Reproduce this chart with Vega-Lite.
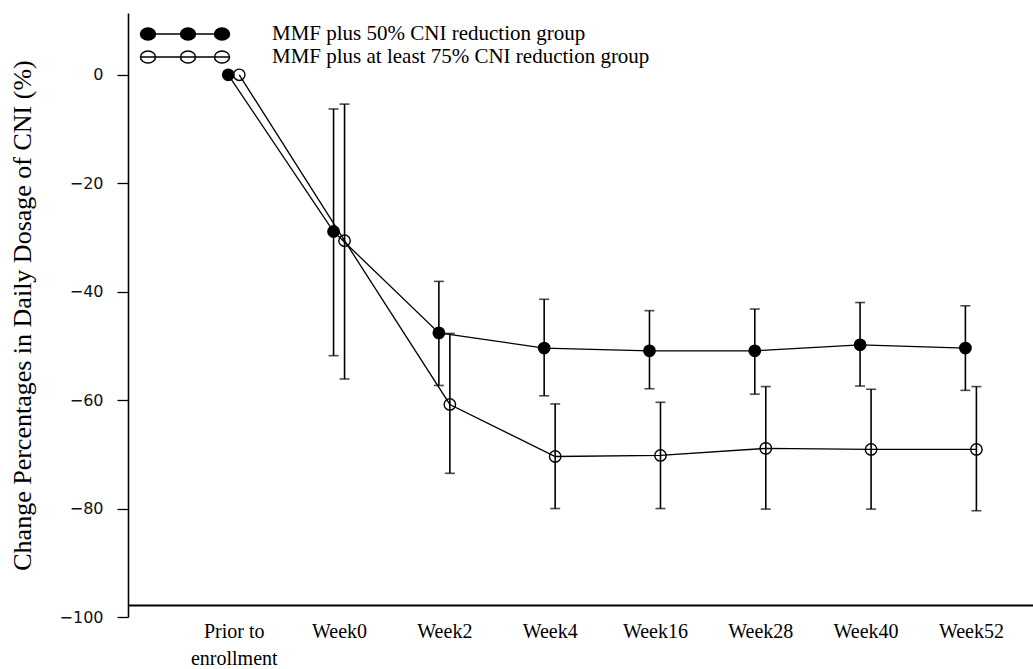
{
  "$schema": "https://vega.github.io/schema/vega-lite/v6.json",
  "width": 905,
  "height": 604,
  "autosize": "none",
  "padding": {"left": 128, "top": 13, "right": 0, "bottom": 52},
  "background": "white",
  "config": {
    "view": {"stroke": null},
    "axis": {"grid": false},
    "axisX": {"labelFont": "Liberation Serif", "labelFontSize": 20, "labelColor": "black"}
  },
  "data": {
    "values": [
      {"group": "MMF plus 50% CNI reduction group", "time": "Prior to enrollment", "idx": 0, "mean": 0, "lower": null, "upper": null},
      {"group": "MMF plus 50% CNI reduction group", "time": "Week0", "idx": 1, "mean": -28.9, "lower": -51.8, "upper": -6.3},
      {"group": "MMF plus 50% CNI reduction group", "time": "Week2", "idx": 2, "mean": -47.6, "lower": -57.3, "upper": -38.1},
      {"group": "MMF plus 50% CNI reduction group", "time": "Week4", "idx": 3, "mean": -50.4, "lower": -59.2, "upper": -41.4},
      {"group": "MMF plus 50% CNI reduction group", "time": "Week16", "idx": 4, "mean": -50.9, "lower": -57.9, "upper": -43.5},
      {"group": "MMF plus 50% CNI reduction group", "time": "Week28", "idx": 5, "mean": -50.9, "lower": -58.9, "upper": -43.2},
      {"group": "MMF plus 50% CNI reduction group", "time": "Week40", "idx": 6, "mean": -49.8, "lower": -57.4, "upper": -42.0},
      {"group": "MMF plus 50% CNI reduction group", "time": "Week52", "idx": 7, "mean": -50.4, "lower": -58.2, "upper": -42.6},
      {"group": "MMF plus at least 75% CNI reduction group", "time": "Prior to enrollment", "idx": 0, "mean": 0, "lower": null, "upper": null},
      {"group": "MMF plus at least 75% CNI reduction group", "time": "Week0", "idx": 1, "mean": -30.6, "lower": -56.1, "upper": -5.4},
      {"group": "MMF plus at least 75% CNI reduction group", "time": "Week2", "idx": 2, "mean": -60.8, "lower": -73.5, "upper": -47.7},
      {"group": "MMF plus at least 75% CNI reduction group", "time": "Week4", "idx": 3, "mean": -70.4, "lower": -80.0, "upper": -60.7},
      {"group": "MMF plus at least 75% CNI reduction group", "time": "Week16", "idx": 4, "mean": -70.2, "lower": -80.0, "upper": -60.4},
      {"group": "MMF plus at least 75% CNI reduction group", "time": "Week28", "idx": 5, "mean": -68.9, "lower": -80.1, "upper": -57.5},
      {"group": "MMF plus at least 75% CNI reduction group", "time": "Week40", "idx": 6, "mean": -69.1, "lower": -80.1, "upper": -58.0},
      {"group": "MMF plus at least 75% CNI reduction group", "time": "Week52", "idx": 7, "mean": -69.1, "lower": -80.4, "upper": -57.5}
    ]
  },
  "encoding": {
    "x": {
      "field": "time",
      "type": "nominal",
      "sort": ["Prior to enrollment", "Week0", "Week2", "Week4", "Week16", "Week28", "Week40", "Week52"],
      "scale": {"type": "point", "padding": 0.797, "align": 0.63},
      "axis": {
        "title": null,
        "orient": "bottom",
        "offset": -12,
        "labelAngle": 0,
        "ticks": false,
        "domainColor": "black",
        "domainWidth": 2.2,
        "labelFont": "Liberation Serif",
        "labelFontSize": 20,
        "labelColor": "black",
        "labelPadding": 16,
        "labelDx": -12,
        "labelLineHeight": 27,
        "labelBaseline": "top",
        "labelExpr": "datum.value == 'Prior to enrollment' ? ['Prior to', 'enrollment'] : datum.value"
      }
    },
    "xOffset": {
      "field": "group",
      "type": "nominal",
      "scale": {"type": "point", "range": [-5.5, 5.5], "padding": 0}
    }
  },
  "layer": [
    {
      "mark": {"type": "line", "color": "black", "strokeWidth": 1.3},
      "encoding": {
        "y": {
          "field": "mean",
          "type": "quantitative",
          "scale": {"domain": [-100, 11.4], "nice": false, "zero": false},
          "axis": {
            "title": "Change Percentages in Daily Dosage of CNI (%)",
            "titleFont": "Liberation Serif",
            "titleFontSize": 26,
            "titleFontWeight": "normal",
            "titleColor": "black",
            "titlePadding": 24,
            "values": [0, -20, -40, -60, -80, -100],
            "labelFont": "DejaVu Sans",
            "labelFontSize": 16,
            "labelColor": "#111",
            "labelPadding": 14,
            "tickSize": 11,
            "tickColor": "black",
            "tickWidth": 1.3,
            "domainColor": "black",
            "domainWidth": 1.6
          }
        },
        "detail": {"field": "group"},
        "order": {"field": "idx"}
      }
    },
    {
      "mark": {"type": "rule", "color": "black", "strokeWidth": 1.6},
      "encoding": {
        "y": {"field": "lower", "type": "quantitative"},
        "y2": {"field": "upper"}
      }
    },
    {
      "mark": {"type": "tick", "color": "black", "size": 10, "thickness": 1.6},
      "encoding": {
        "y": {"field": "lower", "type": "quantitative"}
      }
    },
    {
      "mark": {"type": "tick", "color": "black", "size": 10, "thickness": 1.6},
      "encoding": {
        "y": {"field": "upper", "type": "quantitative"}
      }
    },
    {
      "mark": {"type": "point", "shape": "circle", "size": 130, "filled": true, "stroke": "black", "strokeWidth": 1.4, "opacity": 1},
      "encoding": {
        "y": {"field": "mean", "type": "quantitative"},
        "fill": {
          "field": "group",
          "type": "nominal",
          "scale": {
            "domain": ["MMF plus 50% CNI reduction group", "MMF plus at least 75% CNI reduction group"],
            "range": ["black", "transparent"]
          },
          "legend": {
            "title": null,
            "orient": "none",
            "legendX": 12,
            "legendY": 10,
            "symbolType": "M-1.1,0L7.9,0M-1.05,0A0.75,0.6,0,1,1,0.45,0A0.75,0.6,0,1,1,-1.05,0ZM2.95,0A0.75,0.6,0,1,1,4.45,0A0.75,0.6,0,1,1,2.95,0ZM6.35,0A0.75,0.6,0,1,1,7.85,0A0.75,0.6,0,1,1,6.35,0Z",
            "symbolSize": 400,
            "symbolStrokeColor": "black",
            "symbolStrokeWidth": 1.5,
            "symbolOpacity": 1,
            "labelFont": "Liberation Serif",
            "labelFontSize": 21,
            "labelColor": "black",
            "labelOffset": 110,
            "labelLimit": 600,
            "rowPadding": 2
          }
        }
      }
    }
  ]
}
